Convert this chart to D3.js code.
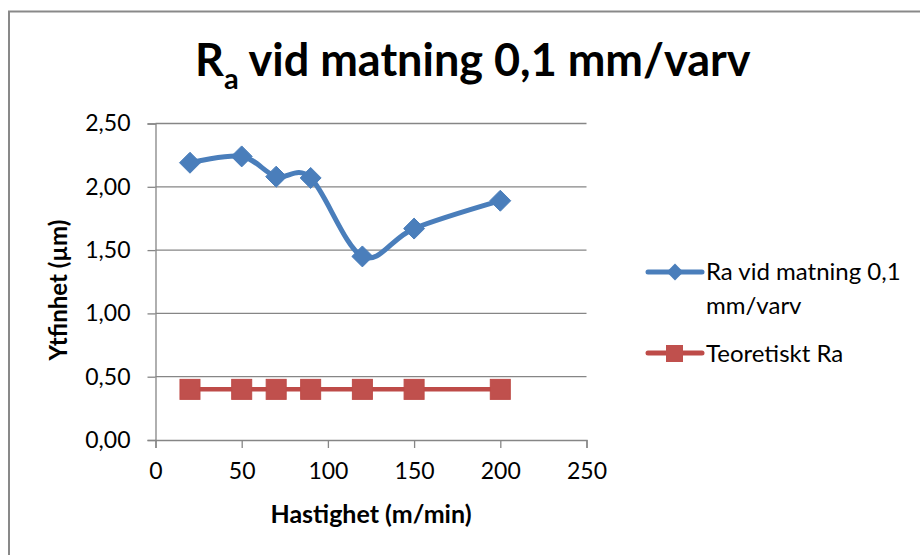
<!DOCTYPE html>
<html>
<head>
<meta charset="utf-8">
<script src="https://cdn.jsdelivr.net/npm/d3@7"></script>
<style>
  html, body { margin: 0; padding: 0; background: #fff; }
  svg { display: block; font-family: Lato, "Open Sans", sans-serif; }
</style>
</head>
<body>
<svg id="chart" width="920" height="555"></svg>
<script>
// Cutting speed (m/min)
const speeds = [20, 50, 70, 90, 120, 150, 200];
// Measured roughness Ra at feed 0.1 mm/rev
const measuredRa = [2.19, 2.24, 2.08, 2.07, 1.45, 1.67, 1.89];
// Theoretical roughness Ra
const theoreticalRa = [0.40, 0.40, 0.40, 0.40, 0.40, 0.40, 0.40];
const xTicks = [0, 50, 100, 150, 200, 250];
const yTicks = [0, 0.5, 1.0, 1.5, 2.0, 2.5];
const seriesNames = ["Ra vid matning 0,1 mm/varv", "Teoretiskt Ra"];

const svg = d3.select("#chart");
const grid = "#868686";
const blue = "#4A7EBB";
const red = "#BE4B48";

// Outer chart frame
svg.append("rect")
  .attr("x", 9).attr("y", 11.5).attr("width", 930).attr("height", 600)
  .attr("fill", "#fff").attr("stroke", "#898989").attr("stroke-width", 2);

const x = d3.scaleLinear().domain([0, 250]).range([155.5, 586.5]);
const y = d3.scaleLinear().domain([0, 2.5]).range([440, 123.5]);
const fmt = d => d3.format(".2f")(d).replace(".", ",");

// Horizontal gridlines
svg.append("g").selectAll("line").data(yTicks.filter(d => d > 0)).join("line")
  .attr("x1", x(0)).attr("x2", x(250))
  .attr("y1", d => y(d)).attr("y2", d => y(d))
  .attr("stroke", grid).attr("stroke-width", 1.3);

// Y axis
const yAxis = svg.append("g").attr("transform", `translate(${x(0)},0)`)
  .call(d3.axisLeft(y).tickValues(yTicks).tickFormat(fmt).tickSizeOuter(0).tickSize(8).tickPadding(17));
yAxis.select(".domain").attr("stroke", grid).attr("stroke-width", 1.3);
yAxis.selectAll(".tick line").attr("stroke", grid).attr("stroke-width", 1.3);
yAxis.selectAll(".tick text").attr("font-size", 23).attr("fill", "#000")
  .attr("font-family", "Lato, sans-serif");

// X axis
const xAxis = svg.append("g").attr("transform", `translate(0,${y(0)})`)
  .call(d3.axisBottom(x).tickValues(xTicks).tickFormat(d3.format("d")).tickSizeOuter(0).tickSize(8).tickPadding(15));
xAxis.select(".domain").attr("stroke", grid).attr("stroke-width", 1.3);
xAxis.selectAll(".tick line").attr("stroke", grid).attr("stroke-width", 1.3);
xAxis.selectAll(".tick text").attr("font-size", 23).attr("fill", "#000")
  .attr("font-family", "Lato, sans-serif");

// Theoretical series: straight line with square markers
const redPts = speeds.map((s, i) => [s, theoreticalRa[i]]);
svg.append("path")
  .attr("d", d3.line().x(d => x(d[0])).y(d => y(d[1]))(redPts))
  .attr("fill", "none").attr("stroke", red).attr("stroke-width", 4.5);
svg.append("g").selectAll("rect").data(redPts).join("rect")
  .attr("x", d => x(d[0]) - 10).attr("y", d => y(d[1]) - 10)
  .attr("width", 20).attr("height", 20)
  .attr("fill", "#C0504D").attr("stroke", red).attr("stroke-width", 1);

// Measured series: smoothed line with diamond markers
const bluePts = speeds.map((s, i) => [s, measuredRa[i]]);
svg.append("path")
  .attr("d", d3.line().curve(d3.curveCardinal.tension(0)).x(d => x(d[0])).y(d => y(d[1]))(bluePts))
  .attr("fill", "none").attr("stroke", blue).attr("stroke-width", 5)
  .attr("stroke-linecap", "round");
const diamond = d3.symbol().type(d3.symbolDiamond2).size(280);
svg.append("g").selectAll("path").data(bluePts).join("path")
  .attr("d", diamond)
  .attr("transform", d => `translate(${x(d[0])},${y(d[1])})`)
  .attr("fill", blue).attr("stroke", blue).attr("stroke-width", 1);

// Title with subscript a
const title = svg.append("text").attr("x", 195).attr("y", 76)
  .attr("font-family", "Lato, sans-serif").attr("font-weight", "bold")
  .attr("font-size", 45).attr("fill", "#000");
title.append("tspan").text("R");
title.append("tspan").attr("dy", 13).attr("font-size", 29).text("a");
title.append("tspan").attr("dy", -13).text(" vid matning 0,1 mm/varv");

// Axis titles
svg.append("text")
  .attr("transform", `translate(67,290) rotate(-90)`)
  .attr("text-anchor", "middle").attr("font-weight", "bold")
  .attr("font-size", 24).text("Ytfinhet (µm)");
svg.append("text")
  .attr("x", 371).attr("y", 523).attr("text-anchor", "middle")
  .attr("font-weight", "bold").attr("font-size", 25).text("Hastighet (m/min)");

// Legend
const lg = svg.append("g");
lg.append("line").attr("x1", 648).attr("x2", 702).attr("y1", 272).attr("y2", 272)
  .attr("stroke", blue).attr("stroke-width", 5).attr("stroke-linecap", "round");
lg.append("path").attr("d", d3.symbol().type(d3.symbolDiamond2).size(180))
  .attr("transform", "translate(675,272)")
  .attr("fill", blue);
const lt = lg.append("text").attr("x", 706).attr("y", 280).attr("font-size", 24);
lt.append("tspan").attr("x", 706).text("Ra vid matning 0,1");
lt.append("tspan").attr("x", 706).attr("dy", 34).text("mm/varv");

lg.append("line").attr("x1", 648).attr("x2", 702).attr("y1", 353).attr("y2", 353)
  .attr("stroke", red).attr("stroke-width", 5).attr("stroke-linecap", "round");
lg.append("rect").attr("x", 666).attr("y", 345).attr("width", 17).attr("height", 17)
  .attr("fill", "#C0504D");
lg.append("text").attr("x", 706).attr("y", 362).attr("font-size", 24).text(seriesNames[1]);
</script>
</body>
</html>
